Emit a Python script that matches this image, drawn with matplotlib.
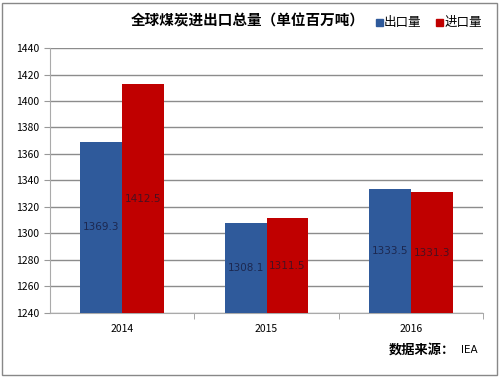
import numpy as np
import matplotlib.pyplot as plt
from matplotlib.patches import Rectangle

plt.rcParams['font.family'] = ['Noto Sans CJK SC', 'DejaVu Sans']

years = ['2014', '2015', '2016']
export_vals = [1369.3, 1308.1, 1333.5]
import_vals = [1412.5, 1311.5, 1331.3]
yticks = list(range(1240, 1441, 20))

blue = '#2f5a9b'
red = '#c00000'

fig = plt.figure(figsize=(5.0, 3.78), dpi=100)
ax = fig.add_axes([0.1, 0.172, 0.866, 0.701])

x = np.arange(len(years))
w = 0.29
ax.bar(x - w / 2, [v - 1240 for v in export_vals], w, bottom=1240, color=blue, zorder=3)
ax.bar(x + w / 2, [v - 1240 for v in import_vals], w, bottom=1240, color=red, zorder=3)

for xi, v in zip(x, export_vals):
    ax.text(xi - w / 2, (1240 + v) / 2, '%.1f' % v, ha='center', va='center',
            fontsize=7.5, color='#1c2850', family='DejaVu Sans', zorder=4)
for xi, v in zip(x, import_vals):
    ax.text(xi + w / 2, (1240 + v) / 2, '%.1f' % v, ha='center', va='center',
            fontsize=7.5, color='#4a1020', family='DejaVu Sans', zorder=4)

ax.set_xlim(-0.5, 2.5)
ax.set_ylim(1240, 1440)
ax.set_yticks(yticks)
ax.set_xticks(x)
ax.set_xticklabels(years)
ax.set_xticks([0.5, 1.5, 2.5], minor=True)
ax.tick_params(axis='x', which='major', length=0, pad=8, labelsize=7.5)
ax.tick_params(axis='x', which='minor', length=4, color='#999999')
ax.tick_params(axis='y', length=4, color='#999999', labelsize=7.5, pad=4)
ax.grid(axis='y', color='#8c8c8c', linewidth=1, zorder=0)
for s in ['top', 'right']:
    ax.spines[s].set_visible(False)
ax.spines['left'].set_color('#aaaaaa')
ax.spines['bottom'].set_color('#aaaaaa')

fig.text(0.495, 0.945, '全球煤炭进出口总量（单位百万吨）', ha='center', va='center',
         fontsize=10.5, fontweight='bold')
fig.patches.append(Rectangle((0.752, 0.93), 0.014, 0.019, transform=fig.transFigure, color=blue))
fig.text(0.768, 0.94, '出口量', ha='left', va='center', fontsize=9)
fig.patches.append(Rectangle((0.872, 0.93), 0.014, 0.019, transform=fig.transFigure, color=red))
fig.text(0.89, 0.94, '进口量', ha='left', va='center', fontsize=9)

fig.text(0.91, 0.075, '数据来源：', ha='right', va='center', fontsize=9.5, fontweight='bold')
fig.text(0.922, 0.075, 'IEA', ha='left', va='center', fontsize=7.5, family='DejaVu Sans')

fig.patches.append(Rectangle((0.004, 0.008), 0.99, 0.985, transform=fig.transFigure,
                             fill=False, edgecolor='#888888', linewidth=1))

fig.savefig('out.png', dpi=100)
